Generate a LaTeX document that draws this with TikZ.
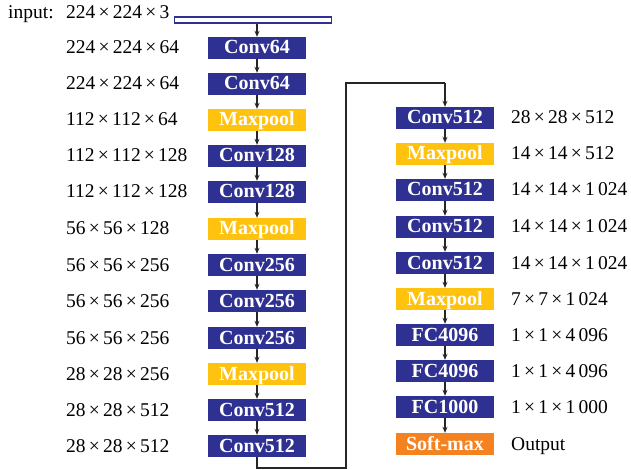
\documentclass[tikz,border=0pt]{standalone}
\usepackage{fontspec}
\setmainfont{Liberation Serif}
\usetikzlibrary{arrows.meta}
\definecolor{vggblue}{RGB}{46,49,146}
\definecolor{vggyellow}{RGB}{255,194,14}
\definecolor{vggorange}{RGB}{245,130,32}
\begin{document}
\begin{tikzpicture}[x=1pt,y=-1pt,
  blk/.style={minimum width=98pt,minimum height=22pt,inner sep=0pt,text=white,
    text height=15pt,text depth=3pt,
    font=\fontsize{20}{22}\selectfont\bfseries},
  conv/.style={blk,fill=vggblue},
  pool/.style={blk,fill=vggyellow},
  soft/.style={blk,fill=vggorange},
  lbl/.style={anchor=west,inner sep=0pt,text height=15pt,text depth=3pt,
    font=\fontsize{19.5}{22}\selectfont},
  arr/.style={line width=1.1pt,draw=black!85,-{Stealth[length=6pt,width=5pt]}},
  conn/.style={line width=1.1pt,draw=black!85}]
\useasboundingbox (0,0) rectangle (631,470);
% input bar
\node[draw=vggblue,fill=white,line width=1.4pt,minimum width=157pt,minimum height=6pt,inner sep=0pt] (in) at (253,20) {};
\node[lbl] (tin) at (8,13) {input:};
\node[lbl] (tin2) at (66,13) {224\,×\,224\,×\,3};
% left column
\node[conv] (l1) at (257,48) {Conv64};
\node[conv] (l2) at (257,84) {Conv64};
\node[pool] (l3) at (257,120) {Maxpool};
\node[conv] (l4) at (257,156) {Conv128};
\node[conv] (l5) at (257,192) {Conv128};
\node[pool] (l6) at (257,229) {Maxpool};
\node[conv] (l7) at (257,265) {Conv256};
\node[conv] (l8) at (257,301) {Conv256};
\node[conv] (l9) at (257,338) {Conv256};
\node[pool] (l10) at (257,374) {Maxpool};
\node[conv] (l11) at (257,410) {Conv512};
\node[conv] (l12) at (257,446) {Conv512};
% left labels
\node[lbl] (a1) at (66,48) {224\,×\,224\,×\,64};
\node[lbl] (a2) at (66,84) {224\,×\,224\,×\,64};
\node[lbl] (a3) at (66,120) {112\,×\,112\,×\,64};
\node[lbl] (a4) at (66,156) {112\,×\,112\,×\,128};
\node[lbl] (a5) at (66,192) {112\,×\,112\,×\,128};
\node[lbl] (a6) at (66,229) {56\,×\,56\,×\,128};
\node[lbl] (a7) at (66,265) {56\,×\,56\,×\,256};
\node[lbl] (a8) at (66,301) {56\,×\,56\,×\,256};
\node[lbl] (a9) at (66,338) {56\,×\,56\,×\,256};
\node[lbl] (a10) at (66,374) {28\,×\,28\,×\,256};
\node[lbl] (a11) at (66,410) {28\,×\,28\,×\,512};
\node[lbl] (a12) at (66,446) {28\,×\,28\,×\,512};
% right column
\node[conv] (r1) at (445,118) {Conv512};
\node[pool] (r2) at (445,154) {Maxpool};
\node[conv] (r3) at (445,190) {Conv512};
\node[conv] (r4) at (445,227) {Conv512};
\node[conv] (r5) at (445,263) {Conv512};
\node[pool] (r6) at (445,299) {Maxpool};
\node[conv] (r7) at (445,335) {FC4096};
\node[conv] (r8) at (445,371) {FC4096};
\node[conv] (r9) at (445,407) {FC1000};
\node[soft] (r10) at (445,444) {Soft-max};
% right labels
\node[lbl] (b1) at (511,118) {28\,×\,28\,×\,512};
\node[lbl] (b2) at (511,154) {14\,×\,14\,×\,512};
\node[lbl] (b3) at (511,190) {14\,×\,14\,×\,1\,024};
\node[lbl] (b4) at (511,227) {14\,×\,14\,×\,1\,024};
\node[lbl] (b5) at (511,263) {14\,×\,14\,×\,1\,024};
\node[lbl] (b6) at (511,299) {7\,×\,7\,×\,1\,024};
\node[lbl] (b7) at (511,335) {1\,×\,1\,×\,4\,096};
\node[lbl] (b8) at (511,371) {1\,×\,1\,×\,4\,096};
\node[lbl] (b9) at (511,407) {1\,×\,1\,×\,1\,000};
\node[lbl] (b10) at (511,444) {Output};
% arrows
\draw[arr] (in.south -| l1.north) -- (l1.north);
\foreach \a/\b in {l1/l2,l2/l3,l3/l4,l4/l5,l5/l6,l6/l7,l7/l8,l8/l9,l9/l10,l10/l11,l11/l12,
  r1/r2,r2/r3,r3/r4,r4/r5,r5/r6,r6/r7,r7/r8,r8/r9,r9/r10}
  \draw[arr] (\a.south) -- (\b.north);
\coordinate (c1) at (257,468);
\coordinate (c2) at (346,468);
\coordinate (c3) at (346,83);
\coordinate (c4) at (445,83);
\draw[conn] (l12.south) -- (c1) -- (c2) -- (c3) -- (c4);
\draw[arr] (c4) -- (r1.north);
\end{tikzpicture}
\end{document}
